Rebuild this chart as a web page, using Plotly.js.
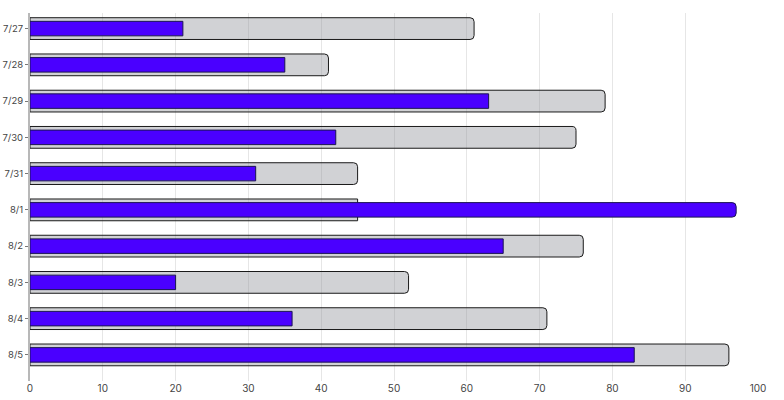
<!DOCTYPE html>
<html>
<head>
<meta charset="utf-8">
<script src="https://cdn.plot.ly/plotly-3.0.1.min.js"></script>
<style>
  html, body { margin: 0; padding: 0; background: #fff; }
  #chart { width: 784px; height: 400px; }
</style>
</head>
<body>
<div id="chart"></div>
<script>
var days = ['7/27', '7/28', '7/29', '7/30', '7/31', '8/1', '8/2', '8/3', '8/4', '8/5'];
var totalVals = [61, 41, 79, 75, 45, 45, 76, 52, 71, 96];
var doneVals = [21, 35, 63, 42, 31, 97, 65, 20, 36, 83];
var xTicks = [0, 10, 20, 30, 40, 50, 60, 70, 80, 90, 100];

var traces = [
    {
        type: 'bar',
        orientation: 'h',
        x: totalVals,
        y: days,
        width: 0.6,
        marker: {
            color: 'rgba(145,147,155,0.42)',
            line: {color: '#1a1a1a', width: 1},
            cornerradius: 4
        },
        hoverinfo: 'none'
    },
    {
        type: 'bar',
        orientation: 'h',
        x: doneVals,
        y: days,
        width: 0.4,
        marker: {
            color: '#4a00ff',
            line: {color: '#1b1550', width: 1},
            cornerradius: 4
        },
        hoverinfo: 'none'
    }
];

var layout = {
    width: 784,
    height: 400,
    margin: {l: 30, r: 26, t: 13, b: 19},
    barmode: 'overlay',
    showlegend: false,
    paper_bgcolor: '#fff',
    plot_bgcolor: '#fff',
    font: {family: 'Inter, Roboto, sans-serif', size: 9.5, color: '#444'},
    xaxis: {
        range: [0, 100],
        tickvals: xTicks,
        tickfont: {size: 10},
        showgrid: true,
        gridcolor: '#e6e6e6',
        gridwidth: 1,
        zeroline: false,
        showline: false,
        ticks: '',
        fixedrange: true
    },
    yaxis: {
        // reversed, with a little more room under the last bar
        range: [9.72, -0.43],
        showgrid: false,
        zeroline: false,
        showline: true,
        linecolor: '#b8b8b8',
        linewidth: 2,
        ticks: 'outside',
        ticklen: 3,
        tickcolor: '#777',
        fixedrange: true
    }
};

Plotly.newPlot('chart', traces, layout, {displayModeBar: false, staticPlot: true});
</script>
</body>
</html>
